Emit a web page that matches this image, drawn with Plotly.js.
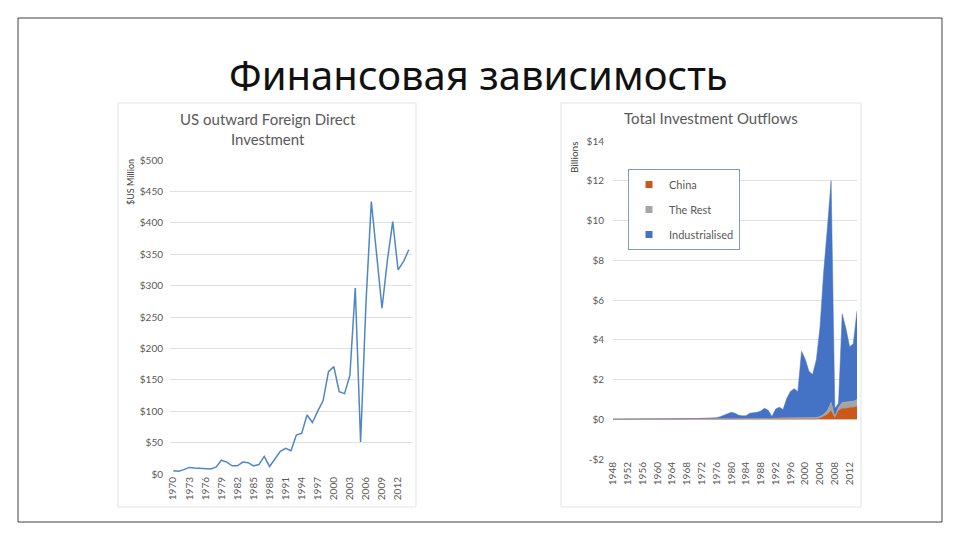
<!DOCTYPE html>
<html>
<head>
<meta charset="utf-8">
<script src="https://cdn.plot.ly/plotly-3.0.1.min.js"></script>
<style>
  html, body { margin: 0; padding: 0; background: #ffffff; }
  #chart { width: 960px; height: 540px; }
</style>
</head>
<body>
<div id="chart"></div>
<script>
// ---------- Left chart: US outward Foreign Direct Investment ($US Million) ----------
const fdiYears = [1970,1971,1972,1973,1974,1975,1976,1977,1978,1979,
                  1980,1981,1982,1983,1984,1985,1986,1987,1988,1989,
                  1990,1991,1992,1993,1994,1995,1996,1997,1998,1999,
                  2000,2001,2002,2003,2004,2005,2006,2007,2008,2009,
                  2010,2011,2012,2013,2014];
const fdiValues = [5,4.5,7,10.5,9.5,9,8.5,8,11,22,
                   19,13,13,19,18,13,15,28,12,25,
                   36,41,37,62,65,94,82,100,117,163,
                   171,131,128,157,296,51,272,434,351,264,
                   340,402,325,338,357];
const fdiTickYears = [1970,1973,1976,1979,1982,1985,1988,1991,1994,1997,2000,2003,2006,2009,2012];
const fdiYTicks = [0,50,100,150,200,250,300,350,400,450,500];

// ---------- Right chart: Total Investment Outflows (Billions) ----------
const outYears = [1948,1949,1950,1951,1952,1953,1954,1955,1956,1957,
                  1958,1959,1960,1961,1962,1963,1964,1965,1966,1967,
                  1968,1969,1970,1971,1972,1973,1974,1975,1976,1977,
                  1978,1979,1980,1981,1982,1983,1984,1985,1986,1987,
                  1988,1989,1990,1991,1992,1993,1994,1995,1996,1997,
                  1998,1999,2000,2001,2002,2003,2004,2005,2006,2007,
                  2008,2009,2010,2011,2012,2013,2014];
const china = [0,0,0,0,0,0,0,0,0,0,
               0,0,0,0,0,0,0,0,0,0,
               0,0,0,0,0,0,0,0,0,0,
               0,0,0,0,0,0,0,0,0,0,
               0,0,0,0.01,0.02,0.02,0.02,0.02,0.02,0.03,
               0.03,0.02,0.01,0.01,0.02,0.03,0.06,0.15,0.25,0.45,
               0.08,0.45,0.55,0.55,0.6,0.6,0.65];
const theRest = [0.01,0.01,0.01,0.01,0.01,0.01,0.01,0.01,0.01,0.01,
                 0.01,0.01,0.01,0.01,0.01,0.01,0.01,0.01,0.01,0.01,
                 0.01,0.01,0.01,0.01,0.01,0.01,0.01,0.01,0.01,0.01,
                 0.01,0.01,0.02,0.02,0.02,0.02,0.02,0.02,0.02,0.02,
                 0.02,0.02,0.02,0.03,0.04,0.04,0.05,0.05,0.05,0.06,
                 0.05,0.05,0.06,0.05,0.05,0.06,0.08,0.1,0.2,0.4,
                 0.06,0.15,0.3,0.32,0.3,0.3,0.35];
const industrialised = [0,0,0,0,0,0,0,0,0,0,
                        0,0,0,0.01,0.01,0.01,0.01,0.01,0.01,0.01,
                        0.01,0.01,0.02,0.03,0.04,0.05,0.05,0.06,0.07,0.12,
                        0.2,0.29,0.33,0.28,0.18,0.15,0.16,0.28,0.31,0.33,
                        0.4,0.53,0.43,0.1,0.45,0.55,0.42,0.98,1.33,1.45,
                        1.32,3.35,2.95,2.35,2.18,2.9,4.5,7.2,9.2,11.15,
                        0.4,0.2,4.45,3.7,2.75,2.9,4.45];
const outTickYears = [1948,1952,1956,1960,1964,1968,1972,1976,1980,1984,1988,1992,1996,2000,2004,2008,2012];
const outYTicks = [-2,0,2,4,6,8,10,12,14];
const seriesNames = ['China','The Rest','Industrialised'];
const seriesColors = ['#C9581A','#A5A5A5','#4472C4'];

// ---------- helpers (pixel -> paper) ----------
const W = 960, H = 540;
const px = v => v / W;
const py = v => 1 - v / H;

const tickFont = {family: 'Lato, "Open Sans", sans-serif', size: 10, color: '#595959'};

const traces = [];
traces.push({
  type: 'scatter', mode: 'lines', x: fdiYears, y: fdiValues,
  xaxis: 'x', yaxis: 'y', showlegend: false,
  line: {color: '#4F86C6', width: 1.5}
});
const stackData = [china, theRest, industrialised];
for (let i = 0; i < 3; i++) {
  traces.push({
    type: 'scatter', mode: 'lines', x: outYears, y: stackData[i],
    xaxis: 'x2', yaxis: 'y2', stackgroup: 'out', showlegend: false,
    name: seriesNames[i],
    line: {color: seriesColors[i], width: 0.5},
    fillcolor: seriesColors[i]
  });
}
// legend entries (square markers)
for (let i = 0; i < 3; i++) {
  traces.push({
    type: 'scatter', mode: 'markers', x: [null], y: [null],
    xaxis: 'x2', yaxis: 'y2', name: seriesNames[i], legendgroup: 'g' + i,
    marker: {symbol: 'square', size: 7, color: seriesColors[i]}
  });
}

const layout = {
  width: W, height: H,
  margin: {l: 0, r: 0, t: 0, b: 0},
  paper_bgcolor: '#ffffff', plot_bgcolor: 'rgba(0,0,0,0)',
  font: {family: 'Lato, "Open Sans", sans-serif', color: '#595959'},
  showlegend: true,
  legend: {
    x: px(628), y: py(169), xanchor: 'left', yanchor: 'top',
    bgcolor: '#ffffff', bordercolor: '#7F9DB9', borderwidth: 1,
    font: {family: 'Lato, "Open Sans", sans-serif', size: 11, color: '#595959'},
    traceorder: 'grouped', tracegroupgap: 6, itemwidth: 30
  },
  xaxis: {
    domain: [px(170), px(412)], range: [1969.4, 2014.6], anchor: 'y',
    tickmode: 'array', tickvals: fdiTickYears, ticktext: fdiTickYears.map(String),
    tickangle: -90, tickfont: tickFont, showgrid: false, zeroline: false,
    showline: false, ticks: '', fixedrange: true
  },
  yaxis: {
    domain: [py(474), py(160)], range: [0, 500], anchor: 'x',
    tickmode: 'array', tickvals: fdiYTicks, ticktext: fdiYTicks.map(v => '$' + v),
    tickfont: tickFont, gridcolor: '#E0E0E0', gridwidth: 1, zeroline: false,
    showline: false, ticks: '', ticklabelstandoff: 6, fixedrange: true
  },
  xaxis2: {
    domain: [px(613), px(857)], range: [1948, 2014], anchor: 'y2',
    tickmode: 'array', tickvals: outTickYears, ticktext: outTickYears.map(String),
    tickangle: -90, tickfont: tickFont, showgrid: false, zeroline: false,
    showline: false, ticks: '', fixedrange: true
  },
  yaxis2: {
    domain: [py(459), py(141)], range: [-2, 14], anchor: 'x2',
    tickmode: 'array', tickvals: outYTicks,
    ticktext: outYTicks.map(v => (v < 0 ? '-$' + Math.abs(v) : '$' + v)),
    tickfont: tickFont, gridcolor: '#E0E0E0', gridwidth: 1,
    zeroline: true, zerolinecolor: '#E0E0E0', zerolinewidth: 1,
    showline: false, ticks: '', ticklabelstandoff: 8, fixedrange: true
  },
  shapes: [
    {type: 'rect', xref: 'paper', yref: 'paper', x0: px(18), x1: px(942), y0: py(522), y1: py(18),
     line: {color: '#404040', width: 1}},
    {type: 'rect', xref: 'paper', yref: 'paper', x0: px(118), x1: px(416), y0: py(507), y1: py(103),
     line: {color: '#E3E3E3', width: 1}, layer: 'below'},
    {type: 'rect', xref: 'paper', yref: 'paper', x0: px(561), x1: px(861), y0: py(507), y1: py(103),
     line: {color: '#E3E3E3', width: 1}, layer: 'below'}
  ],
  annotations: [
    {xref: 'paper', yref: 'paper', x: px(478), y: py(74), xanchor: 'center', yanchor: 'middle',
     text: 'Финансовая зависимость', showarrow: false,
     font: {family: '"Noto Sans", "Open Sans", sans-serif', size: 40, color: '#111111'}},
    {xref: 'paper', yref: 'paper', x: px(268), y: py(129), xanchor: 'center', yanchor: 'middle',
     text: 'US outward Foreign Direct<br>Investment', showarrow: false,
     font: {family: 'Lato, "Open Sans", sans-serif', size: 15, color: '#595959'}},
    {xref: 'paper', yref: 'paper', x: px(711), y: py(118), xanchor: 'center', yanchor: 'middle',
     text: 'Total Investment Outflows', showarrow: false,
     font: {family: 'Lato, "Open Sans", sans-serif', size: 15, color: '#595959'}},
    {xref: 'paper', yref: 'paper', x: px(130), y: py(182), xanchor: 'center', yanchor: 'middle',
     text: '$US Million', showarrow: false, textangle: -90,
     font: {family: 'Lato, "Open Sans", sans-serif', size: 9, color: '#404040'}},
    {xref: 'paper', yref: 'paper', x: px(574), y: py(158), xanchor: 'center', yanchor: 'middle',
     text: 'Billions', showarrow: false, textangle: -90,
     font: {family: 'Lato, "Open Sans", sans-serif', size: 10, color: '#404040'}}
  ]
};

Plotly.newPlot('chart', traces, layout, {staticPlot: true, displayModeBar: false});
</script>
</body>
</html>
